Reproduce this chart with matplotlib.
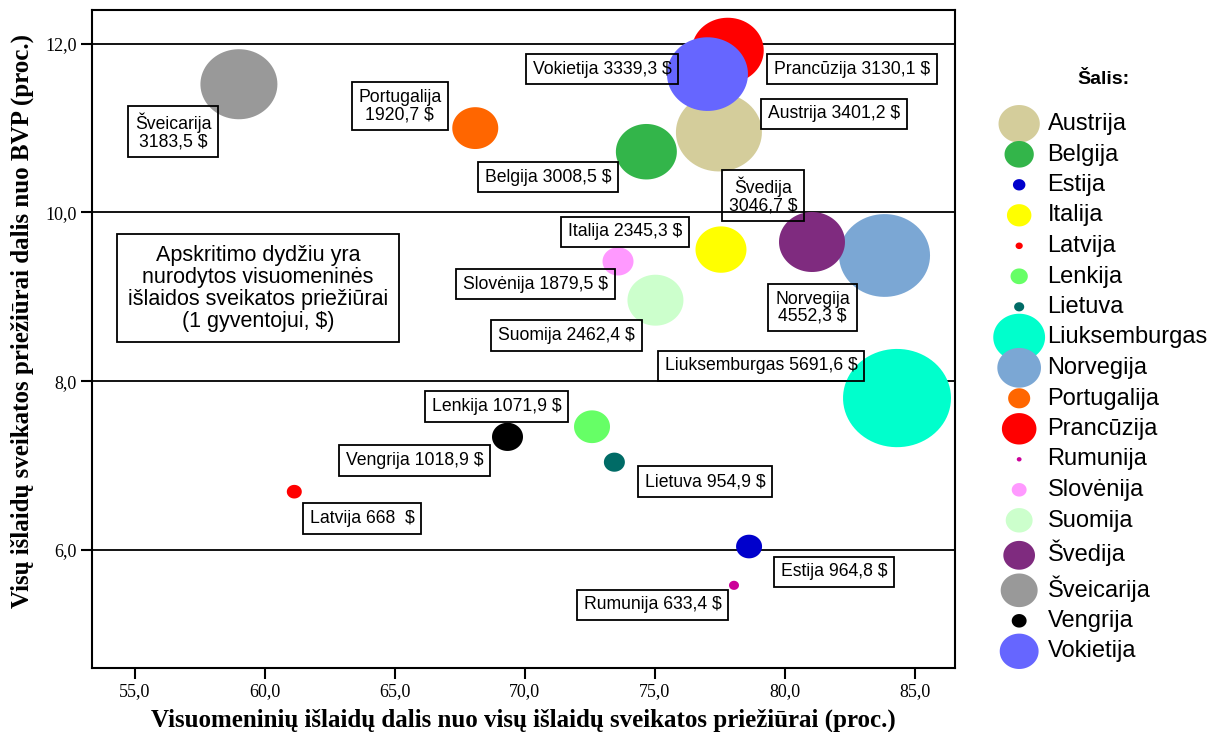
import matplotlib
matplotlib.use("Agg")
import matplotlib.pyplot as plt
from matplotlib.ticker import FuncFormatter
import numpy as np

# Data
countries = ["Austrija", "Belgija", "Estija", "Italija", "Latvija", "Lenkija",
             "Lietuva", "Liuksemburgas", "Norvegija", "Portugalija", "Prancūzija",
             "Rumunija", "Slovėnija", "Suomija", "Švedija", "Šveicarija",
             "Vengrija", "Vokietija"]
public_share = [77.46, 74.67, 78.62, 77.54, 61.13, 72.58, 73.44, 84.31, 83.83,
                68.09, 77.8, 78.04, 73.58, 75.02, 81.04, 59.0, 69.33, 77.02]
total_share = [10.95, 10.72, 6.04, 9.56, 6.69, 7.46, 7.04, 7.80, 9.49,
               11.0, 11.92, 5.58, 9.42, 8.96, 9.65, 11.52, 7.34, 11.64]
spending = ["3401,2", "3008,5", "964,8", "2345,3", "668 ", "1071,9", "954,9",
            "5691,6", "4552,3", "1920,7", "3130,1", "633,4", "1879,5", "2462,4",
            "3046,7", "3183,5", "1018,9", "3339,3"]
# relative bubble size as drawn in the picture
bubble_size = [16.2, 11.2, 4.2, 9.2, 2.0, 6.2, 3.2, 20.6, 17.2, 8.2, 13.4,
               1.0, 5.2, 10.2, 12.2, 14.4, 5.2, 15.2]
colors = ["#D4CD9B", "#33B54A", "#0000CC", "#FFFF00", "#FF0000", "#66FF66",
          "#006B66", "#00FFCC", "#7BA7D4", "#FF6600", "#FF0000", "#CC0099",
          "#FF99FF", "#CCFFCC", "#7F2B7F", "#999999", "#000000", "#6666FF"]

# label box centres (data coords); some labels go on two lines
label_pos = [(81.88, 11.17), (70.88, 10.42), (81.90, 5.74), (73.85, 9.77),
             (63.73, 6.37), (68.92, 7.70), (76.92, 6.81), (79.08, 8.18),
             (81.06, 8.87), (65.19, 11.26), (82.58, 11.70), (74.92, 5.35),
             (70.40, 9.15), (71.60, 8.54), (79.15, 10.20), (56.48, 10.96),
             (65.77, 7.06), (72.96, 11.70)]
two_line = {"Norvegija", "Portugalija", "Švedija", "Šveicarija"}

note = "Apskritimo dydžiu yra\nnurodytos visuomeninės\nišlaidos sveikatos priežiūrai\n(1 gyventojui, $)"

sans = ["Liberation Sans", "DejaVu Sans"]
serif = ["Liberation Serif", "DejaVu Serif"]

fig = plt.figure(figsize=(12.13, 7.32), dpi=100)
ax = fig.add_axes([92 / 1213, 1 - 668 / 732, (955 - 92) / 1213, (668 - 10) / 732])

# slightly wide ellipse marker, like the original
t = np.linspace(0, 2 * np.pi, 80)
ellipse = np.column_stack([np.cos(t), 0.91 * np.sin(t)])

for i, c in enumerate(countries):
    d_px = 5 + 5 * bubble_size[i]
    d_pt = d_px * 0.72
    ax.scatter(public_share[i], total_share[i], s=d_pt ** 2, marker=ellipse,
               color=colors[i], edgecolors="none", zorder=3, label=c)

for i, c in enumerate(countries):
    if c in two_line:
        txt = f"{c}\n{spending[i]} $"
    else:
        txt = f"{c} {spending[i]} $"
    ax.text(label_pos[i][0], label_pos[i][1], txt, ha="center", va="center",
            fontsize=12.7, family=sans, linespacing=1.0, zorder=5,
            bbox=dict(boxstyle="square,pad=0.38", fc="none", ec="black", lw=1.3))

ax.text(59.73, 9.10, note, ha="center", va="center", fontsize=15.5,
        family=sans, linespacing=1.05, zorder=5,
        bbox=dict(boxstyle="square,pad=0.5", fc="none", ec="black", lw=1.3))

ax.set_xlim(53.35, 86.54)
ax.set_ylim(4.60, 12.40)
ax.set_xticks([55, 60, 65, 70, 75, 80, 85])
ax.set_yticks([6, 8, 10, 12])
fmt = FuncFormatter(lambda v, p: f"{v:.1f}".replace(".", ","))
ax.xaxis.set_major_formatter(fmt)
ax.yaxis.set_major_formatter(fmt)
for yv in [6, 8, 10, 12]:
    ax.axhline(yv, color="black", lw=1.3, zorder=1)
ax.tick_params(direction="out", length=8, width=1.5, labelsize=13, pad=3)
for lab in ax.get_xticklabels() + ax.get_yticklabels():
    lab.set_family(serif)
for sp in ax.spines.values():
    sp.set_linewidth(1.5)

ax.set_xlabel("Visuomeninių išlaidų dalis nuo visų išlaidų sveikatos priežiūrai (proc.)",
              family=serif, fontweight="bold", fontsize=18)
ax.set_ylabel("Visų išlaidų sveikatos priežiūrai dalis nuo BVP (proc.)",
              family=serif, fontweight="bold", fontsize=18)
ax.xaxis.set_label_coords(0.5, -0.062)
ax.yaxis.set_label_coords(-0.067, 0.527)

fig.text(1103 / 1213, 1 - 80 / 732, "Šalis:", ha="center", va="center",
         fontsize=14, fontweight="bold", family=sans)
ax.legend(loc="upper left", bbox_to_anchor=(1005 / 1213, 1 - 113 / 732),
          bbox_transform=fig.transFigure, frameon=False, prop={"family": sans, "size": 17},
          markerscale=0.48, handlelength=1.2, handletextpad=0.6, labelspacing=0.36,
          borderpad=0, borderaxespad=0, scatterpoints=1)

fig.savefig("out.png", dpi=100)
